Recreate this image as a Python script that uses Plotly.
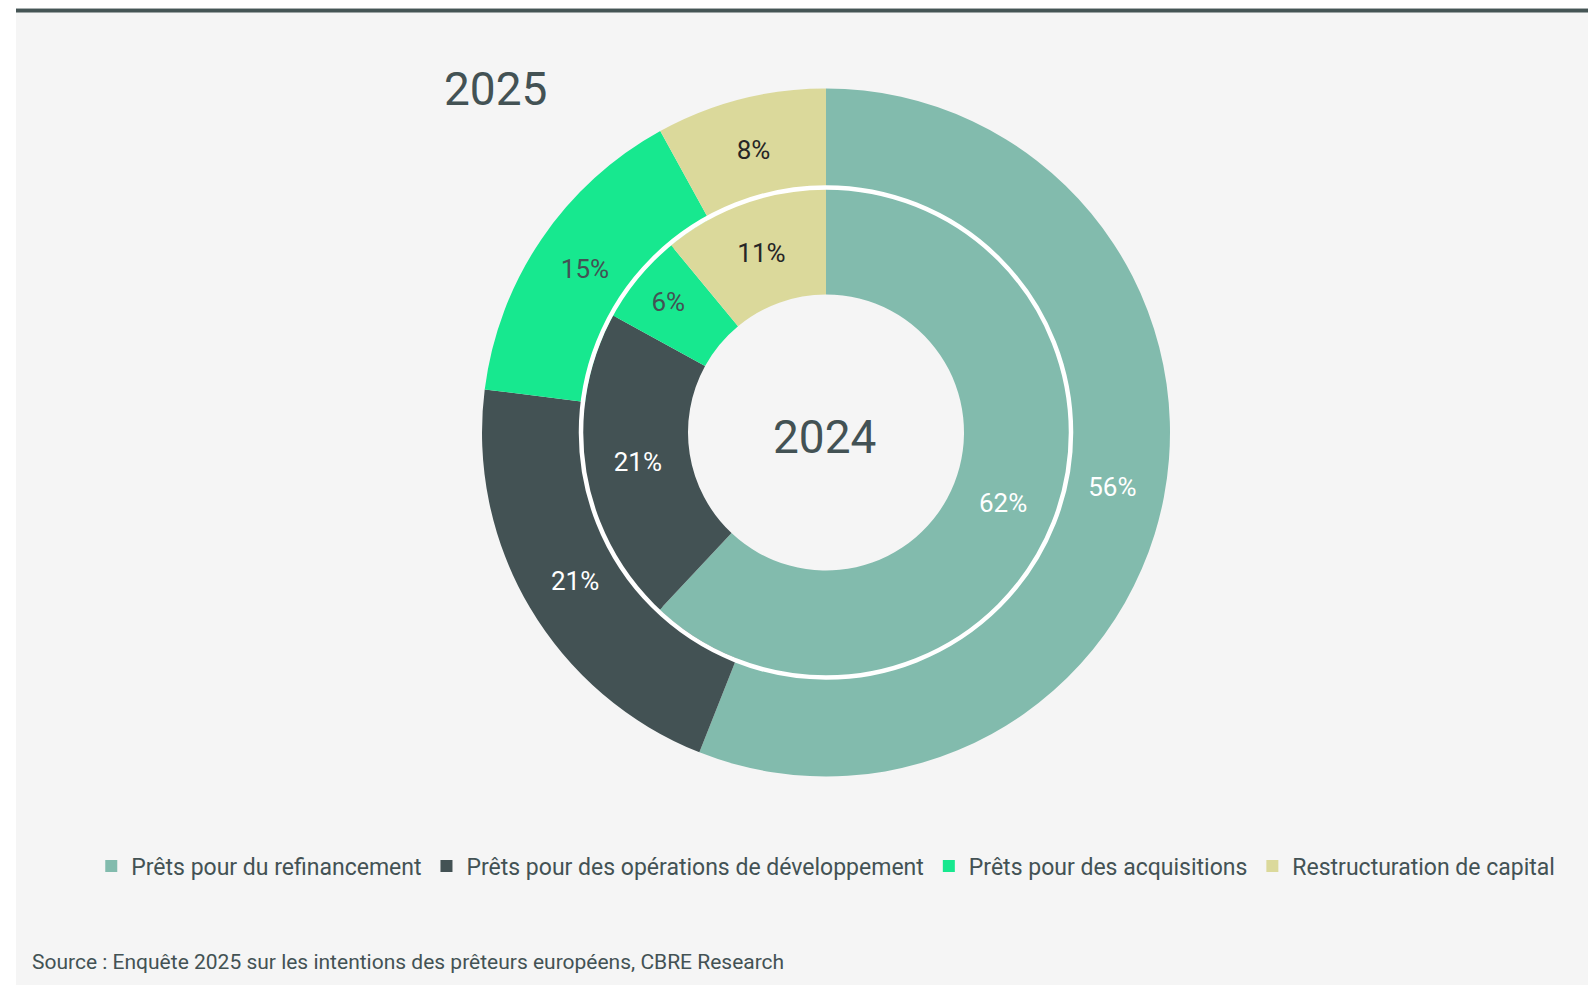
import plotly.graph_objects as go

W, H = 1588, 985

categories = [
    "Prêts pour du refinancement",
    "Prêts pour des opérations de développement",
    "Prêts pour des acquisitions",
    "Restructuration de capital",
]
values_2025 = [56, 21, 15, 8]
values_2024 = [62, 21, 6, 11]

colors = ["#82bbad", "#435254", "#17e88f", "#dbd99b"]
label_colors = ["#ffffff", "#ffffff", "#435254", "#262626"]

FONT = "Roboto"
TEXT = "#435254"

# donut geometry in pixels
cx, cy = 826, 432.5
r_outer, r_inner, r_hole = 344, 243, 138


def dom_x(r):
    return [(cx - r) / W, (cx + r) / W]


def dom_y(r):
    return [(H - (cy + r)) / H, (H - (cy - r)) / H]


fig = go.Figure()

# outer ring: 2025
fig.add_trace(go.Pie(
    labels=categories,
    values=values_2025,
    marker=dict(colors=colors, line=dict(width=0)),
    hole=(r_inner - 4) / r_outer,
    sort=False,
    direction="clockwise",
    rotation=0,
    texttemplate="%{value}%",
    textposition="inside",
    insidetextorientation="horizontal",
    textfont=dict(family=FONT, size=26, color=label_colors),
    domain=dict(x=dom_x(r_outer), y=dom_y(r_outer)),
    hoverinfo="skip",
    showlegend=True,
))

# inner ring: 2024
fig.add_trace(go.Pie(
    labels=categories,
    values=values_2024,
    marker=dict(colors=colors, line=dict(width=0)),
    hole=r_hole / r_inner,
    sort=False,
    direction="clockwise",
    rotation=0,
    texttemplate="%{value}%",
    textposition="inside",
    insidetextorientation="horizontal",
    textfont=dict(family=FONT, size=26, color=label_colors),
    domain=dict(x=dom_x(r_inner), y=dom_y(r_inner)),
    hoverinfo="skip",
    showlegend=False,
))

shapes = [
    # white page margins
    dict(type="rect", xref="paper", yref="paper", x0=0, x1=16 / W, y0=0, y1=1,
         fillcolor="#ffffff", line=dict(width=0), layer="below"),
    dict(type="rect", xref="paper", yref="paper", x0=0, x1=1, y0=(H - 8) / H, y1=1,
         fillcolor="#ffffff", line=dict(width=0), layer="below"),
    # header rule
    dict(type="rect", xref="paper", yref="paper", x0=16 / W, x1=1,
         y0=(H - 9) / H, y1=(H - 8) / H,
         fillcolor="#a9b0b0", line=dict(width=0), layer="below"),
    dict(type="rect", xref="paper", yref="paper", x0=16 / W, x1=1,
         y0=(H - 12.5) / H, y1=(H - 9) / H,
         fillcolor="#455555", line=dict(width=0), layer="below"),
    # white ring between the two years
    dict(type="circle", xref="paper", yref="paper",
         x0=(cx - 245) / W, x1=(cx + 245) / W,
         y0=(H - (cy + 245)) / H, y1=(H - (cy - 245)) / H,
         line=dict(color="#ffffff", width=4.5), layer="above"),
]

annotations = [
    dict(text="2025", x=495 / W, y=(H - 89) / H, xref="paper", yref="paper",
         showarrow=False, xanchor="center", yanchor="middle",
         font=dict(family=FONT, size=46, color=TEXT)),
    dict(text="2024", x=(cx - 2) / W, y=(H - 437) / H, xref="paper", yref="paper",
         showarrow=False, xanchor="center", yanchor="middle",
         font=dict(family=FONT, size=46, color=TEXT)),
    dict(text="Source : Enquête 2025 sur les intentions des prêteurs européens, CBRE Research",
         x=30 / W, y=(H - 962) / H, xref="paper", yref="paper",
         showarrow=False, xanchor="left", yanchor="middle",
         font=dict(family=FONT, size=21, color=TEXT)),
]

fig.update_layout(
    width=W, height=H,
    margin=dict(l=0, r=0, t=0, b=0),
    paper_bgcolor="#f5f5f5",
    plot_bgcolor="#f5f5f5",
    font=dict(family=FONT, color=TEXT),
    shapes=shapes,
    annotations=annotations,
    legend=dict(
        orientation="h",
        x=0.52, xanchor="center",
        y=(H - 866) / H, yanchor="middle",
        font=dict(family=FONT, size=23, color=TEXT),
        bgcolor="rgba(0,0,0,0)",
        itemclick=False, itemdoubleclick=False,
        traceorder="normal",
    ),
)

fig.write_html("out.html", config={"displayModeBar": False})
